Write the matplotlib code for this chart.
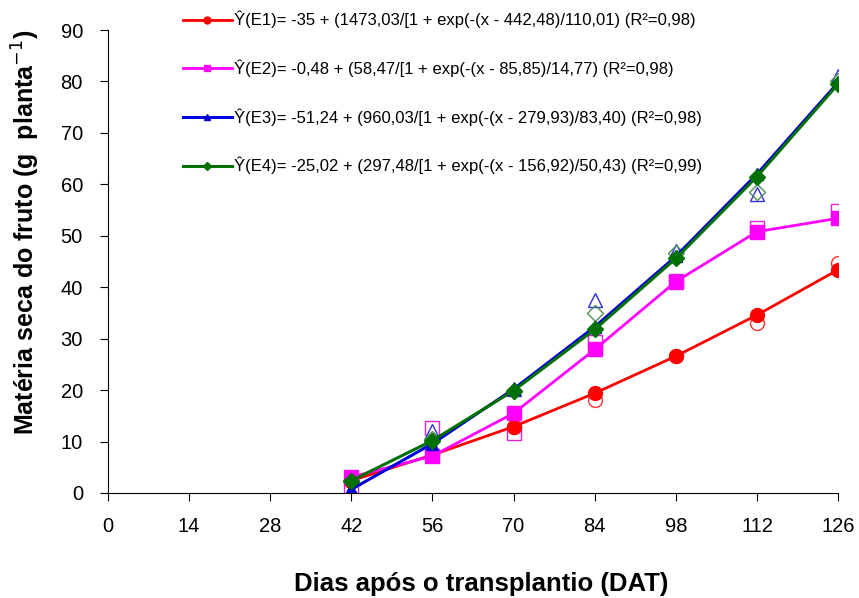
import matplotlib
matplotlib.use("Agg")
import matplotlib.pyplot as plt

plt.rcParams['font.family'] = ['Liberation Sans', 'DejaVu Sans']

dat = [42, 56, 70, 84, 98, 112, 126]
xticks = [0, 14, 28, 42, 56, 70, 84, 98, 112, 126]

# fitted values (filled markers + lines)
e1_fit = [2.4, 7.4, 12.9, 19.4, 26.6, 34.6, 43.4]
e2_fit = [3.1, 7.2, 15.5, 27.9, 41.1, 50.8, 53.4]
e3_fit = [0.7, 9.6, 20.2, 32.3, 46.0, 62.0, 79.8]
e4_fit = [2.4, 10.2, 19.9, 31.8, 45.6, 61.5, 79.5]

# observed values (open markers)
e1_obs = [2.5, 7.3, 12.9, 18.1, 26.6, 33.0, 44.8]
e2_obs = [0.3, 12.7, 11.6, 29.4, 41.3, 51.6, 54.8]
e3_obs = [0.5, 12.0, 20.3, 37.5, 47.0, 58.2, 81.0]
e4_obs = [2.3, 10.5, 19.9, 34.9, 46.6, 58.6, 80.0]

labels = [
    "Ŷ(E1)= -35 + (1473,03/[1 + exp(-(x - 442,48)/110,01) (R²=0,98)",
    "Ŷ(E2)= -0,48 + (58,47/[1 + exp(-(x - 85,85)/14,77) (R²=0,98)",
    "Ŷ(E3)= -51,24 + (960,03/[1 + exp(-(x - 279,93)/83,40) (R²=0,98)",
    "Ŷ(E4)= -25,02 + (297,48/[1 + exp(-(x - 156,92)/50,43) (R²=0,99)",
]

fig = plt.figure(figsize=(8.59, 5.98), dpi=100)
ax = fig.add_axes([0.1257, 0.1756, 0.85, 0.7742])

# open markers for observed data
ax.plot(dat, e1_obs, 'o', ms=10, mfc='none', mec='#ff3030', mew=1.0, ls='none')
ax.plot(dat, e2_obs, 's', ms=10, mfc='none', mec='#e020e0', mew=1.0, ls='none')
ax.plot(dat, e3_obs, '^', ms=10, mfc='none', mec='#3030e0', mew=1.0, ls='none')
ax.plot(dat, e4_obs, 'D', ms=8, mfc='none', mec='#509050', mew=1.0, ls='none')

# fitted lines
l1, = ax.plot(dat, e1_fit, '-o', color='#ff0000', lw=2, ms=10)
l2, = ax.plot(dat, e2_fit, '-s', color='#ff00ff', lw=2, ms=10)
l3, = ax.plot(dat, e3_fit, '-^', color='#0000dd', lw=2.2, ms=9)
l4, = ax.plot(dat, e4_fit, '-D', color='#007000', lw=2.2, ms=8)

ax.set_xlim(0, 126)
ax.set_ylim(0, 90)
ax.set_xticks(xticks)
ax.set_yticks(range(0, 91, 10))
ax.spines['top'].set_visible(False)
ax.spines['right'].set_visible(False)
ax.tick_params(axis='both', labelsize=14.5, length=6, direction='out')
ax.tick_params(axis='x', pad=11)
ax.tick_params(axis='y', pad=12)

ax.set_ylabel("Matéria seca do fruto (g  planta$^{-1}$)", fontsize=18, fontweight='bold')
ax.yaxis.set_label_coords(-0.091, 0.564)
ax.set_xlabel("Dias após o transplantio (DAT)", fontsize=18.5, fontweight='bold')
ax.xaxis.set_label_coords(0.511, -0.17)

fig.legend([l1, l2, l3, l4], labels, loc='upper left', bbox_to_anchor=(0.205, 0.993),
           frameon=False, fontsize=12, markerscale=0.5, handlelength=2.95,
           labelspacing=1.87, handletextpad=0.15, borderaxespad=0)

fig.savefig("out.png", dpi=100)
